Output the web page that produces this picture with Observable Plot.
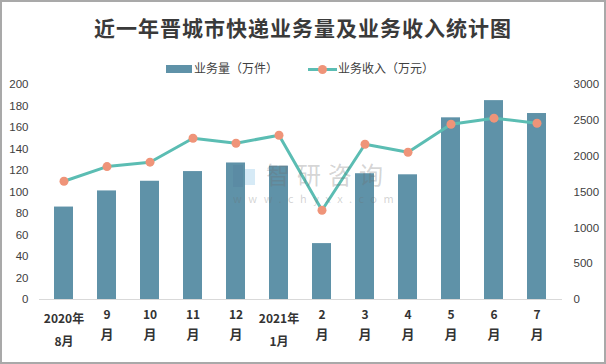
<!DOCTYPE html>
<html>
<head>
<meta charset="utf-8">
<script src="https://cdn.jsdelivr.net/npm/d3@7"></script>
<script src="https://cdn.jsdelivr.net/npm/@observablehq/plot@0.6"></script>
<style>
  body { margin: 0; background: #fff; }
  #wrap { position: relative; width: 606px; height: 364px; overflow: hidden; background: #fff; font-family: "Noto Sans CJK SC", "Noto Sans", sans-serif; }
  #border { position: absolute; left: 0; top: 0; width: 606px; height: 364px; box-sizing: border-box; border: 2px solid #a9a9a9; pointer-events: none; }
  #title { position: absolute; left: 0; top: 12px; width: 606px; text-align: center; font-size: 21px; font-weight: bold; color: #3a3a3a; letter-spacing: 1px; line-height: 30px; }
  .leg { position: absolute; top: 59px; font-size: 12px; color: #404040; line-height: 18px; white-space: nowrap; }
  .wm { position: absolute; color: rgba(110,110,110,0.30); white-space: nowrap; }
  svg { position: absolute; left: 0; top: 0; }
</style>
</head>
<body>
<div id="wrap">
  <div id="chart"></div>
  <div id="title">近一年晋城市快递业务量及业务收入统计图</div>
  <div class="leg" style="left:166px;"><span style="display:inline-block;width:26px;height:8px;background:#5f92a8;vertical-align:middle;margin-right:2px;position:relative;top:-1px;"></span>业务量（万件）</div>
  <div class="leg" style="left:308px;"><span style="display:inline-block;position:relative;width:29px;height:10px;vertical-align:middle;margin-right:1px;top:-1px;"><span style="position:absolute;left:0;top:4px;width:29px;height:3px;background:#5bbdb3;"></span><span style="position:absolute;left:10px;top:1px;width:9px;height:9px;border-radius:50%;background:#ef9479;"></span></span>业务收入（万元）</div>
  <div class="wm" style="left:233px;top:165px;width:24px;height:22px;">
    <div style="position:absolute;left:0;top:0;width:10px;height:22px;background:rgba(80,120,150,0.25);"></div>
    <div style="position:absolute;left:12px;top:4px;width:10px;height:16px;background:rgba(90,170,220,0.25);"></div>
  </div>
  <div class="wm" style="left:266px;top:162px;font-size:24px;letter-spacing:7px;line-height:24px;">智研咨询</div>
  <div class="wm" style="left:233px;top:192px;font-size:11px;letter-spacing:6.5px;line-height:12px;">www.chyxx.com</div>
  <div id="border"></div>
</div>
<script>
const months = ["2020年8月","9月","10月","11月","12月","2021年1月","2月","3月","4月","5月","6月","7月"];
const topLabels = ["2020年","9","10","11","12","2021年","2","3","4","5","6","7"];
const bottomLabels = ["8月","月","月","月","月","1月","月","月","月","月","月","月"];
const volume = [86, 101, 110, 119, 127, 124, 52, 117, 116, 169, 185, 173];
const revenue = [1650, 1855, 1916, 2250, 2181, 2292, 1246, 2167, 2055, 2446, 2530, 2460];
const leftTicks = [0, 20, 40, 60, 80, 100, 120, 140, 160, 180, 200];
const rightTicks = [0, 500, 1000, 1500, 2000, 2500, 3000];

const ratio = 3000 / 200;
const data = months.map((m, i) => ({
  month: m, top: topLabels[i], bottom: bottomLabels[i],
  isYear: topLabels[i].includes("年"),
  volume: volume[i], revenue: revenue[i]
}));

const tickFont = "Liberation Sans, DejaVu Sans, sans-serif";
const chart = Plot.plot({
  width: 606,
  height: 364,
  marginTop: 84,
  marginBottom: 65,
  marginLeft: 39,
  marginRight: 44,
  style: { background: "transparent", overflow: "visible" },
  x: { domain: months, paddingInner: 0.55, paddingOuter: 0.275, label: null, axis: null },
  y: { domain: [0, 200], label: null, axis: null },
  marks: [
    Plot.barY(data, { x: "month", y: "volume", fill: "#5f92a8" }),
    Plot.ruleY([0], { stroke: "#d9d9d9", strokeWidth: 1 }),
    Plot.line(data, { x: "month", y: d => d.revenue / ratio, stroke: "#5bbdb3", strokeWidth: 3, curve: "linear" }),
    Plot.dot(data, { x: "month", y: d => d.revenue / ratio, r: 4.5, fill: "#ef9479", stroke: "none" }),
    Plot.axisY({ anchor: "left", ticks: leftTicks, tickSize: 0, tickPadding: 11, fontSize: 11.5, fill: "#404040", fontFamily: tickFont, label: null }),
    Plot.axisY({ anchor: "right", ticks: rightTicks.map(v => v / ratio), tickFormat: d => String(Math.round(d * ratio)), tickSize: 0, tickPadding: 11, fontSize: 11.5, fill: "#404040", fontFamily: tickFont, label: null }),
    Plot.text(data.filter(d => !d.isYear), { x: "month", text: "top", frameAnchor: "bottom", dy: 19, fontSize: 12, fontWeight: "bold", fill: "#333", fontFamily: "Noto Sans CJK SC" }),
    Plot.text(data.filter(d => !d.isYear), { x: "month", text: "bottom", frameAnchor: "bottom", dy: 39, fontSize: 13, fontWeight: "bold", fill: "#333", fontFamily: "Noto Sans CJK SC" }),
    Plot.text(data.filter(d => d.isYear), { x: "month", text: "top", frameAnchor: "bottom", dy: 23, fontSize: 12, fontWeight: "bold", fill: "#333", fontFamily: "Noto Sans CJK SC" }),
    Plot.text(data.filter(d => d.isYear), { x: "month", text: "bottom", frameAnchor: "bottom", dy: 46, fontSize: 12, fontWeight: "bold", fill: "#333", fontFamily: "Noto Sans CJK SC" })
  ]
});
document.getElementById("chart").appendChild(chart);
</script>
</body>
</html>
